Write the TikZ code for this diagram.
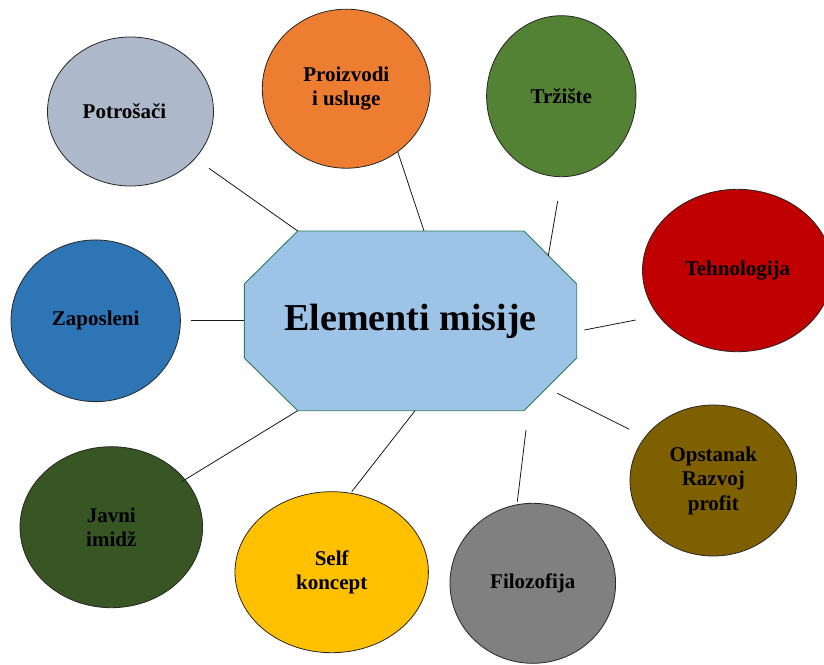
\documentclass[tikz,border=0pt]{standalone}
\usepackage{fontspec}
\setmainfont{Liberation Serif}
\usetikzlibrary{shapes.geometric}

\definecolor{coreFill}{HTML}{9DC3E6}
\definecolor{coreLine}{HTML}{2E7D55}
\definecolor{cGray}{HTML}{ADB9CA}
\definecolor{cOrange}{HTML}{ED7D31}
\definecolor{cGreen}{HTML}{548235}
\definecolor{cRed}{HTML}{C00000}
\definecolor{cBlue}{HTML}{2E75B6}
\definecolor{cBrown}{HTML}{7F6000}
\definecolor{cDark}{HTML}{375623}
\definecolor{cGold}{HTML}{FFC000}
\definecolor{cMid}{HTML}{808080}

\begin{document}
\begin{tikzpicture}[x=1pt,y=-1pt,
  bubble/.style 2 args={ellipse, draw=black!85, line width=0.8pt, fill=#1,
    minimum width=2*#2, inner sep=0pt, align=center,
    font=\bfseries\fontsize{21}{24.5}\selectfont},
  link/.style={draw=black!90, line width=0.8pt},
  octa/.style={fill=coreFill, draw=coreLine, line width=0.9pt}]
\useasboundingbox (0,0) rectangle (824,664);

% central octagon
\coordinate (o1) at (297.7,231);
\coordinate (o2) at (524,231);
\coordinate (o3) at (576.7,284);
\coordinate (o4) at (576.7,358);
\coordinate (o5) at (524,410.7);
\coordinate (o6) at (297.7,410.7);
\coordinate (o7) at (244.3,358);
\coordinate (o8) at (244.3,284);
\path[octa] (o1) -- (o2) -- (o3) -- (o4) -- (o5) -- (o6) -- (o7) -- (o8) -- cycle;
\node[font=\bfseries\fontsize{38}{44}\selectfont] (core) at (410.5,321) {Elementi misije};

% surrounding elements
\node[bubble={cGray}{83pt}, minimum height=149pt] (potr) at (130.5,111.5) {\raisebox{-3pt}{Potrošači}\kern12pt};
\node[bubble={cOrange}{84pt}, minimum height=159pt] (proiz) at (346.3,88.7) {Proizvodi\\i usluge};
\node[bubble={cGreen}{74.7pt}, minimum height=161pt] (trz) at (561.3,96.2) {Tržište};
\node[bubble={cRed}{95pt}, minimum height=162.4pt] (teh) at (737.5,270.5) {Tehnologija};
\node[bubble={cBlue}{84.7pt}, minimum height=161.7pt] (zap) at (95.7,320.8) {Zaposleni};
\node[bubble={cBrown}{83.3pt}, minimum height=151pt] (ops) at (713.3,480.5) {Opstanak\\Razvoj\\profit};
\node[bubble={cDark}{91.3pt}, minimum height=161pt] (jav) at (111.3,527.2) {Javni\\imidž};
\node[bubble={cGold}{96.7pt}, minimum height=161pt] (self) at (331.7,572.2) {Self\\koncept};
\node[bubble={cMid}{82.8pt}, minimum height=160pt] (filo) at (532.8,583.3) {Filozofija};

% connector ends on the element side
\coordinate (potrEnd) at (209,168.3);
\coordinate (proizEnd) at (397.7,151.7);
\coordinate (trzEnd) at (557.7,201);
\coordinate (trzCore) at (548.3,255.7);
\coordinate (tehEnd) at (635.7,320);
\coordinate (tehCore) at (584.3,330);
\coordinate (zapEnd) at (190.7,320);
\coordinate (zapCore) at (244.3,320);
\coordinate (opsEnd) at (629.3,429.3);
\coordinate (opsCore) at (557.3,393.3);
\coordinate (javEnd) at (181.7,481.7);
\coordinate (selfEnd) at (351.7,491.7);
\coordinate (filoEnd) at (517.3,501.7);
\coordinate (filoCore) at (526,430);
\coordinate (proizCore) at (424,231);
\coordinate (selfCore) at (415,410.7);

% connectors
\draw[link] (potrEnd) -- (o1);
\draw[link] (proizEnd) -- (proizCore);
\draw[link] (trzEnd) -- (trzCore);
\draw[link] (tehCore) -- (tehEnd);
\draw[link] (zapEnd) -- (zapCore);
\draw[link] (opsCore) -- (opsEnd);
\draw[link] (javEnd) -- (o6);
\draw[link] (selfEnd) -- (selfCore);
\draw[link] (filoEnd) -- (filoCore);
\end{tikzpicture}
\end{document}
